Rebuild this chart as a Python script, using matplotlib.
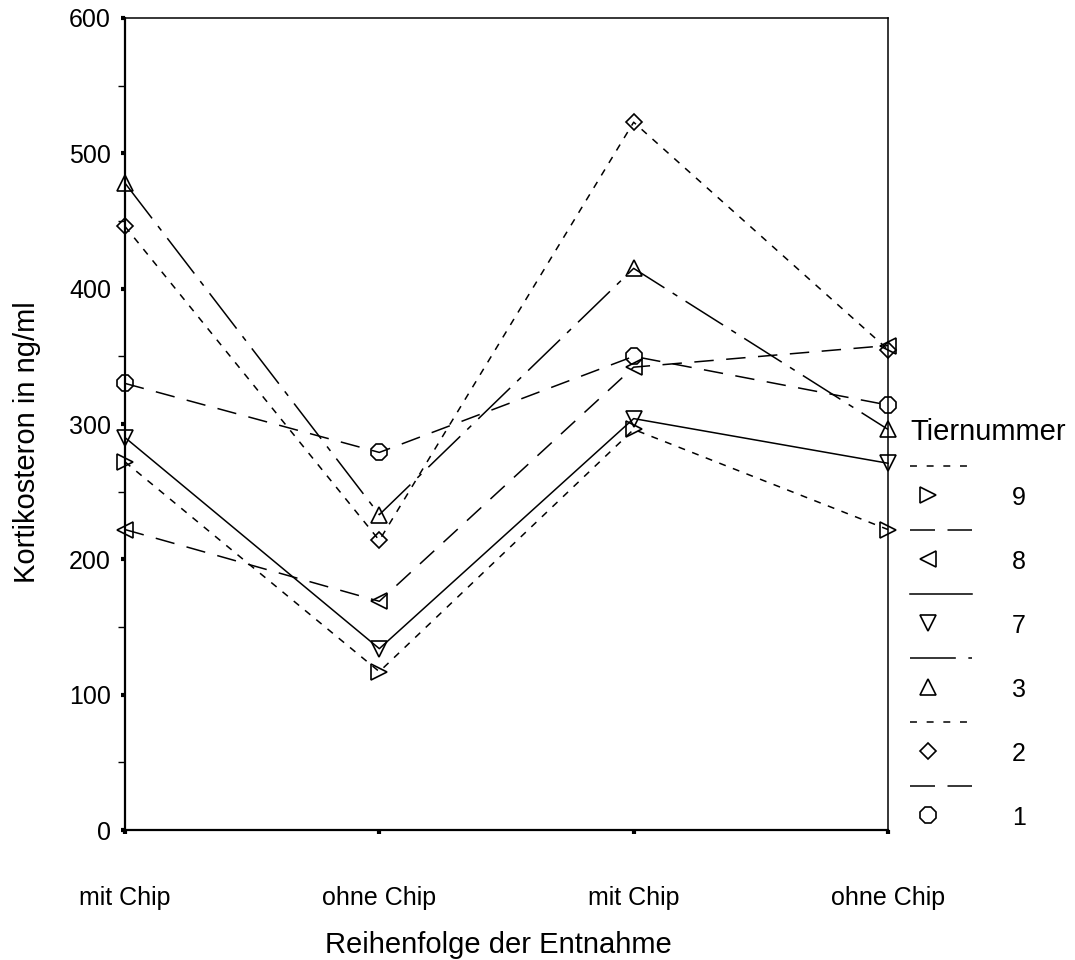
import matplotlib.pyplot as plt
import numpy as np

plt.rcParams['font.family'] = ['Liberation Sans', 'DejaVu Sans']
plt.rcParams['lines.scale_dashes'] = False

# Daten: Kortikosteron je Tier und Entnahme
entnahme = ['mit Chip', 'ohne Chip', 'mit Chip', 'ohne Chip']
tiere = ['9', '8', '7', '3', '2', '1']
tier_9 = [272, 117, 296, 222]
tier_8 = [222, 169, 342, 358]
tier_7 = [290, 134, 304, 271]
tier_3 = [478, 233, 415, 296]
tier_2 = [446, 214, 523, 355]
tier_1 = [330, 279, 350, 314]
werte = [tier_9, tier_8, tier_7, tier_3, tier_2, tier_1]

# Linienstil, Marker, Markergroesse, Legenden-Strich
stile = [
    ((0, (5, 5.5)), '>', 11, (0, (5, 7))),
    ((0, (14, 9)), '<', 11, (0, (18, 9))),
    ('-', 'v', 11, '-'),
    ((0, (32, 7, 4, 7)), '^', 11, (0, (33, 9, 4, 9))),
    ((0, (5, 5.5)), 'D', 8.5, (0, (5, 7))),
    ((0, (14, 9)), '8', 12, (0, (18, 9))),
]

fig = plt.figure(figsize=(10.75, 9.6), dpi=100)
ax = fig.add_axes([125 / 1075, 130 / 960, 763 / 1075, 812 / 960])

x = np.arange(len(entnahme))
for vals, (ls, mk, ms, _) in zip(werte, stile):
    ax.plot(x, vals, color='black', lw=1.1, linestyle=ls, marker=mk, ms=ms,
            mfc='none', mec='black', mew=1.2, clip_on=False)

ax.set_xlim(0, 3)
ax.set_ylim(0, 600)
ax.set_xticks(x)
ax.set_xticklabels(entnahme, fontsize=18)
ax.set_yticks(range(0, 601, 100))
ax.set_yticks(range(50, 600, 100), minor=True)
ax.tick_params(axis='x', length=3, width=3, pad=37)
ax.tick_params(axis='y', which='major', length=3, width=3, pad=7, labelsize=18)
ax.tick_params(axis='y', which='minor', length=5, width=1)
for s in ['left', 'bottom']:
    ax.spines[s].set_linewidth(1.6)
for s in ['top', 'right']:
    ax.spines[s].set_linewidth(1.1)

ax.set_xlabel('Reihenfolge der Entnahme', fontsize=21)
ax.set_ylabel('Kortikosteron in ng/ml', fontsize=21)
ax.xaxis.set_label_coords(0.489, -0.124)
ax.yaxis.set_label_coords(-0.11, 0.478)

# Legende von Hand (Strich oben, Marker darunter, Nummer rechts)
lax = fig.add_axes([0, 0, 1, 1], facecolor='none')
lax.set_xlim(0, 1075)
lax.set_ylim(960, 0)
lax.axis('off')
lax.text(910, 432, 'Tiernummer', fontsize=21, va='center')
for i, (name, (_, mk, ms, lls)) in enumerate(zip(tiere, stile)):
    y0 = 466 + i * 64
    lax.plot([910, 972], [y0, y0], color='black', lw=1.1, linestyle=lls)
    lax.plot([928], [y0 + 29], marker=mk, ms=ms, mfc='none',
             mec='black', mew=1.2, linestyle='none')
    lax.text(1012, y0 + 32, name, fontsize=18, va='center')

fig.savefig('out.png', dpi=100)
